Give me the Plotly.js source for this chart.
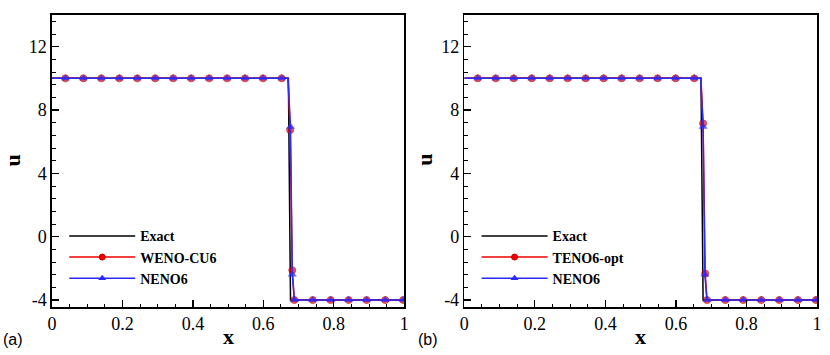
<!DOCTYPE html>
<html>
<head>
<meta charset="utf-8">
<script src="https://cdn.plot.ly/plotly-3.0.1.min.js"></script>
<style>
  body { margin: 0; background: #fff; }
  #plot { width: 830px; height: 355px; }
</style>
</head>
<body>
<div id="plot"></div>
<script>
// exact solution
let x_exact = [0, 0.671, 0.677, 1];
let u_exact = [10, 10, -4, -4];

// NENO6 (same in both panels)
let x_neno = [0, 0.038, 0.089, 0.140, 0.191, 0.242, 0.293, 0.344, 0.395, 0.446, 0.497, 0.548, 0.599, 0.652, 0.670, 0.677, 0.682, 0.688, 0.740, 0.791, 0.842, 0.893, 0.946, 0.997];
let u_neno = [10, 10, 10, 10, 10, 10, 10, 10, 10, 10, 10, 10, 10, 10, 10, 6.94, -2.38, -4, -4, -4, -4, -4, -4, -4];

// WENO-CU6 (panel a)
let x_cu6 = [0, 0.038, 0.089, 0.140, 0.191, 0.242, 0.293, 0.344, 0.395, 0.446, 0.497, 0.548, 0.599, 0.652, 0.670, 0.676, 0.682, 0.688, 0.740, 0.791, 0.842, 0.893, 0.946, 0.997];
let u_cu6 = [10, 10, 10, 10, 10, 10, 10, 10, 10, 10, 10, 10, 10, 10, 10, 6.73, -2.12, -4, -4, -4, -4, -4, -4, -4];

// TENO6-opt (panel b)
let x_teno = [0, 0.038, 0.089, 0.140, 0.191, 0.242, 0.293, 0.344, 0.395, 0.446, 0.497, 0.548, 0.599, 0.652, 0.671, 0.677, 0.683, 0.688, 0.740, 0.791, 0.842, 0.893, 0.946, 0.997];
let u_teno = [10, 10, 10, 10, 10, 10, 10, 10, 10, 10, 10, 10, 10, 10, 10, 7.15, -2.33, -4, -4, -4, -4, -4, -4, -4];

let y_ticks = [-4, 0, 4, 8, 12];
let y_ticktext = ['-4', '0', '4', '8', '12'];
let x_ticks = [0, 0.2, 0.4, 0.6, 0.8, 1];
let x_ticktext = ['0', '0.2', '0.4', '0.6', '0.8', '1'];

// no symbol on the left end or on the last point before the jump
function sym_sizes(u, size) {
    return u.map(function(v, i) {
        if (i === 0) return 0;
        if (v === 10 && u[i + 1] !== undefined && u[i + 1] < 10) return 0;
        return size;
    });
}

let serif = "'Liberation Serif', 'Times New Roman', serif";
let sans = "'Liberation Sans', Arial, sans-serif";
let red = '#ee0000';
let blue = '#2a2aff';
let red_marker = { symbol: 'circle', color: red, line: { color: '#c00000', width: 1 } };
let blue_marker = { symbol: 'triangle-up', color: blue, line: { width: 0 } };

function make_traces(xa, ya, leg, x_num, u_num, name_num) {
    let traces = [
        {
            x: x_exact, y: u_exact, xaxis: xa, yaxis: ya, legend: leg,
            mode: 'lines', name: 'Exact',
            line: { color: 'black', width: 1.5 }
        },
        {
            x: x_num, y: u_num, xaxis: xa, yaxis: ya, showlegend: false,
            mode: 'lines+markers',
            line: { color: red, width: 1.5 },
            marker: Object.assign({}, red_marker, { size: sym_sizes(u_num, 7) })
        },
        {
            x: x_neno, y: u_neno, xaxis: xa, yaxis: ya, showlegend: false,
            mode: 'lines+markers',
            line: { color: blue, width: 1.5 },
            marker: Object.assign({}, blue_marker, { size: sym_sizes(u_neno, 8) })
        },
        // legend entries only
        {
            x: [null], y: [null], xaxis: xa, yaxis: ya, legend: leg,
            mode: 'lines+markers', name: name_num,
            line: { color: red, width: 1.5 },
            marker: Object.assign({}, red_marker, { size: 6 })
        },
        {
            x: [null], y: [null], xaxis: xa, yaxis: ya, legend: leg,
            mode: 'lines+markers', name: 'NENO6',
            line: { color: blue, width: 1.5 },
            marker: Object.assign({}, blue_marker, { size: 7 })
        }
    ];
    return traces;
}

let data = make_traces('x', 'y', 'legend', x_cu6, u_cu6, 'WENO-CU6')
    .concat(make_traces('x2', 'y2', 'legend2', x_teno, u_teno, 'TENO6-opt'));

function x_axis(domain, anchor) {
    return {
        domain: domain, anchor: anchor,
        range: [0, 1],
        tickvals: x_ticks, ticktext: x_ticktext,
        ticks: 'inside', ticklen: 7, tickwidth: 1.2, tickcolor: 'black',
        minor: { dtick: 0.05, ticks: 'inside', ticklen: 3.5, tickwidth: 1, tickcolor: 'black' },
        showline: true, mirror: true, linecolor: 'black', linewidth: 1.6,
        showgrid: false, zeroline: false,
        tickfont: { family: serif, size: 18, color: 'black' }
    };
}

function y_axis(anchor) {
    return {
        domain: [0, 1], anchor: anchor,
        range: [-4.44, 14],
        tickvals: y_ticks, ticktext: y_ticktext,
        ticks: 'inside', ticklen: 7, tickwidth: 1.2, tickcolor: 'black',
        minor: { dtick: 0.8, ticks: 'inside', ticklen: 3.5, tickwidth: 1, tickcolor: 'black' },
        showline: true, mirror: true, linecolor: 'black', linewidth: 1.6,
        showgrid: false, zeroline: false,
        tickfont: { family: serif, size: 18, color: 'black' }
    };
}

function legend_box(x) {
    return {
        x: x, y: 0.297, xref: 'paper', yref: 'paper',
        xanchor: 'left', yanchor: 'top',
        bgcolor: 'rgba(0,0,0,0)', borderwidth: 0,
        itemwidth: 66, tracegroupgap: 0,
        font: { family: serif, size: 14, color: 'black', weight: 'bold' }
    };
}

function label(text, x, y, font, angle) {
    return { text: text, xref: 'paper', yref: 'paper', x: x, y: y,
             xanchor: 'center', yanchor: 'middle', showarrow: false,
             borderpad: 0, textangle: angle || 0, font: font };
}

let title_font = { family: serif, size: 22, color: 'black' };
let panel_font = { family: sans, size: 16, color: 'black' };

let u_left = label('<b>u</b>', -0.0519, 0.503, title_font, -90);
u_left.height = 18;
let u_right = label('<b>u</b>', 0.4870, 0.503, title_font, -90);
u_right.height = 18;

let layout = {
    width: 830, height: 355,
    margin: { l: 51.7, r: 13.3, t: 15, b: 48.3 },
    paper_bgcolor: 'white', plot_bgcolor: 'white',
    font: { family: serif, size: 18, color: 'black' },
    showlegend: true,
    xaxis: x_axis([0, 0.4605], 'y'),
    yaxis: y_axis('x'),
    xaxis2: x_axis([0.539, 1], 'y2'),
    yaxis2: y_axis('x2'),
    legend: legend_box(0.016),
    legend2: legend_box(0.555),
    annotations: [
        label('<b>x</b>', 0.2305, -0.100, title_font),
        label('<b>x</b>', 0.7695, -0.100, title_font),
        u_left,
        u_right,
        label('(a)', -0.051, -0.1107, panel_font),
        label('(b)', 0.4914, -0.1107, panel_font)
    ]
};

Plotly.newPlot('plot', data, layout, { displayModeBar: false, staticPlot: true });
</script>
</body>
</html>
